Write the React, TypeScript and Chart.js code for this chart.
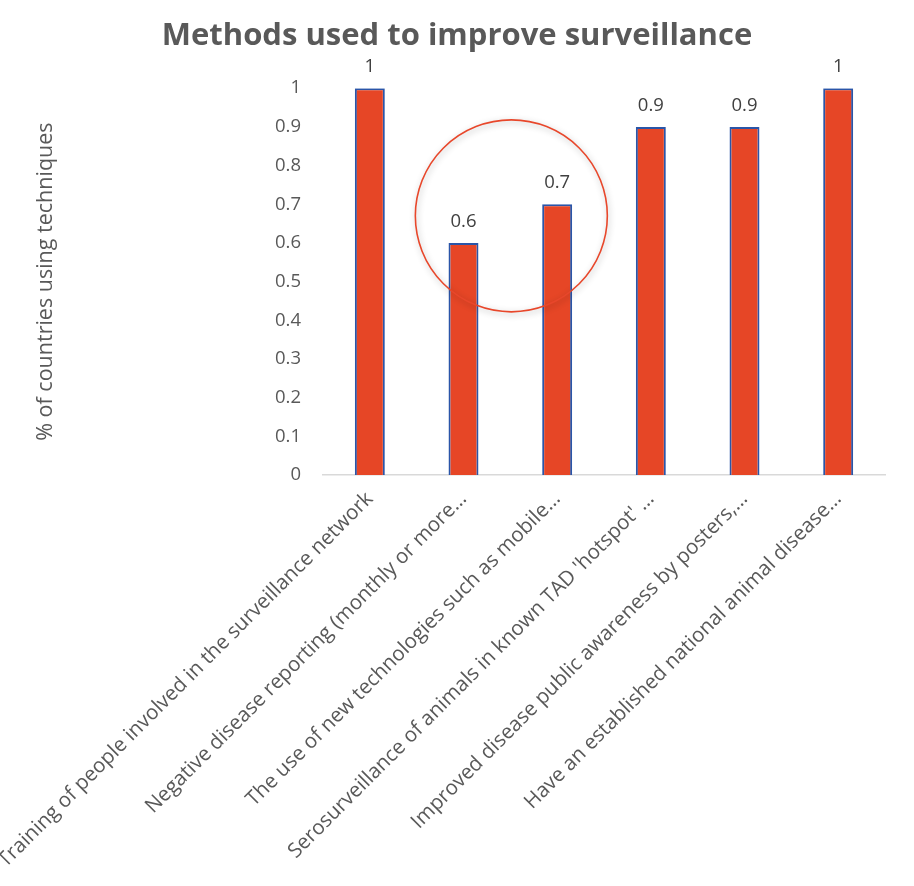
import React, { useEffect, useRef } from "react";
import { Chart, registerables } from "chart.js";

Chart.register(...registerables);

const titleText = "Methods used to improve surveillance";
const yAxisTitle = "% of countries using techniques";
const categories = [
  "Training of people involved in the surveillance network",
  "Negative disease reporting (monthly or more…",
  "The use of new technologies such as mobile…",
  "Serosurveillance of animals in known TAD 'hotspot' …",
  "Improved disease public awareness by posters,…",
  "Have an established national animal disease…",
];
const values = [1, 0.6, 0.7, 0.9, 0.9, 1];
const highlighted = [1, 2];
const highlightCenterValue = 0.67;

const FONT = "'Open Sans', sans-serif";
const GREY = "#595959";

const dataLabelPlugin = {
  id: "dataLabels",
  afterDatasetsDraw(chart: any) {
    const ctx = chart.ctx;
    const meta = chart.getDatasetMeta(0);
    ctx.save();
    ctx.font = `18.5px ${FONT}`;
    ctx.fillStyle = "#404040";
    ctx.textAlign = "center";
    ctx.textBaseline = "bottom";
    meta.data.forEach((bar: any, i: number) => {
      ctx.fillText(String(values[i]), bar.x, bar.y - 12);
    });
    ctx.restore();
  },
};

const circlePlugin = {
  id: "circleHighlight",
  afterDatasetsDraw(chart: any) {
    const ctx = chart.ctx;
    const meta = chart.getDatasetMeta(0);
    const xs = highlighted.map((i) => meta.data[i].x);
    const cx = (xs[0] + xs[xs.length - 1]) / 2 + 1;
    const cy = chart.scales.y.getPixelForValue(highlightCenterValue);
    ctx.save();
    ctx.beginPath();
    ctx.arc(cx, cy, 96, 0, Math.PI * 2);
    ctx.strokeStyle = "#E8472B";
    ctx.lineWidth = 1.6;
    ctx.shadowColor = "rgba(0,0,0,0.3)";
    ctx.shadowBlur = 6;
    ctx.shadowOffsetX = 1;
    ctx.shadowOffsetY = 2;
    ctx.stroke();
    ctx.restore();
  },
};

export default function App() {
  const ref = useRef<HTMLCanvasElement | null>(null);
  useEffect(() => {
    if (!ref.current) return;
    const chart = new Chart(ref.current, {
      type: "bar",
      data: {
        labels: categories,
        datasets: [
          {
            data: values,
            backgroundColor: "#E64626",
            borderColor: "#2A55A8",
            borderWidth: 2,
            categoryPercentage: 1,
            barPercentage: 0.32,
          },
        ],
      },
      options: {
        responsive: false,
        animation: false,
        layout: { padding: { left: 29, right: 29, top: 0, bottom: 0 } },
        plugins: {
          legend: { display: false },
          tooltip: { enabled: false },
          title: {
            display: true,
            text: titleText,
            color: GREY,
            font: { family: FONT, size: 31, weight: "bold" },
            padding: { top: 18, bottom: 33 },
          },
        },
        scales: {
          x: {
            grid: { display: false, drawTicks: false },
            border: { display: true, color: "#D9D9D9", width: 1.5 },
            ticks: {
              color: GREY,
              font: { family: FONT, size: 20.5 },
              maxRotation: 45,
              minRotation: 45,
              autoSkip: false,
              padding: 12,
            },
            afterFit(scale: any) {
              scale.paddingLeft = 0;
              scale.paddingRight = 0;
              scale.height = 411;
            },
          },
          y: {
            min: 0,
            max: 1,
            grid: { display: false, drawTicks: false },
            border: { display: false },
            ticks: {
              stepSize: 0.1,
              color: GREY,
              font: { family: FONT, size: 18.5 },
              padding: 22,
              callback: (v: any) => String(Number(Number(v).toFixed(1))),
            },
            title: {
              display: true,
              text: yAxisTitle,
              color: GREY,
              font: { family: FONT, size: 21.5 },
              padding: { top: 4, bottom: 0 },
            },
            afterFit(scale: any) {
              scale.width = 294;
              scale.paddingTop = 0;
              scale.paddingBottom = 0;
            },
          },
        },
      },
      plugins: [dataLabelPlugin, circlePlugin],
    });
    return () => chart.destroy();
  }, []);
  return (
    <div style={{ position: "absolute", left: 0, top: 0, width: 914, height: 886 }}>
      <canvas ref={ref} width={914} height={886} style={{ display: "block" }} />
    </div>
  );
}
